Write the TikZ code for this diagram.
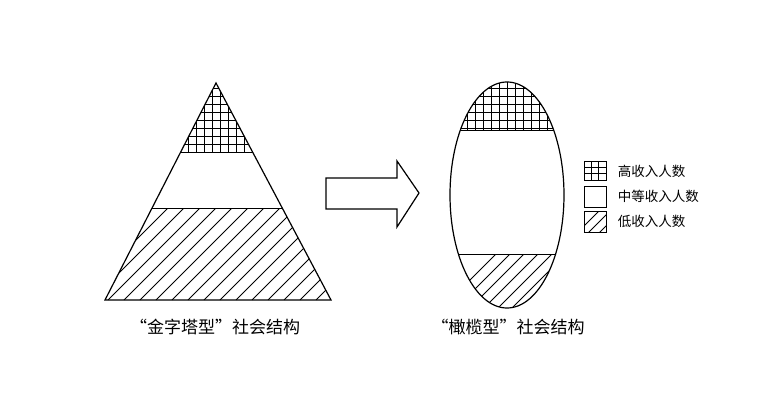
\documentclass[tikz,border=0pt]{standalone}
\usepackage{fontspec}
\newfontfamily\cjk{Noto Sans CJK SC}
\begin{document}
\begin{tikzpicture}[x=1pt,y=-1pt,line width=1.2pt,
  lbl/.style={font=\cjk\fontsize{17}{17}\selectfont},
  leg/.style={font=\cjk\fontsize{13.5}{14}\selectfont,anchor=west},
  thin/.style={line width=0.8pt}]
\useasboundingbox (0,0) rectangle (768,420);
% triangle
\coordinate (A) at (216,83); \coordinate (B) at (105,300); \coordinate (C) at (331,300);
\begin{scope}
\clip (A)--(B)--(C)--cycle;
\begin{scope}
\clip (0,0) rectangle (768,152);
\foreach \x in {180,188,...,260} \draw[thin] (\x,70)--(\x,152);
\foreach \y in {88,96,...,152} \draw[thin] (150,\y)--(280,\y);
\end{scope}
\begin{scope}
\clip (0,208) rectangle (768,300);
\foreach \k in {0,...,24} \draw[thin] (60+\k*16,300)--(60+\k*16+100,200);
\end{scope}
\draw[thin] (100,152)--(340,152);
\draw[thin] (100,208)--(340,208);
\end{scope}
\draw (A)--(B)--(C)--cycle;
\node[lbl] (t1) at (215,327) {“金字塔型”社会结构};
% arrow
\draw[fill=white] (326,178)--(397,178)--(397,161)--(419,193)--(397,227)--(397,209)--(326,209)--cycle;
% ellipse
\coordinate (E) at (507,195);
\begin{scope}
\clip (E) ellipse [x radius=57, y radius=113];
\begin{scope}
\clip (0,0) rectangle (768,130);
\foreach \x in {451,459,...,565} \draw[thin] (\x,80)--(\x,130);
\foreach \y in {88,96,...,130} \draw[thin] (440,\y)--(570,\y);
\end{scope}
\begin{scope}
\clip (0,254) rectangle (768,310);
\foreach \k in {0,...,14} \draw[thin] (430+\k*14,320)--(430+\k*14+80,240);
\end{scope}
\draw[thin] (440,130)--(570,130);
\draw[thin] (440,254)--(570,254);
\end{scope}
\draw (E) ellipse [x radius=57, y radius=113];
\node[lbl] (t2) at (508,327) {“橄榄型”社会结构};
% legend
\begin{scope}
\clip (584,161) rectangle (606,180);
\foreach \x in {591.3,598.7} \draw[thin] (\x,161)--(\x,180);
\foreach \y in {167.3,173.7} \draw[thin] (584,\y)--(606,\y);
\end{scope}
\draw[thin] (584,161) rectangle (606,180);
\draw[thin] (584,186) rectangle (606,207);
\begin{scope}
\clip (584,211) rectangle (606,232);
\foreach \k in {0,...,3} \draw[thin] (570+\k*11,240)--(570+\k*11+30,210);
\end{scope}
\draw[thin] (584,211) rectangle (606,232);
\node[leg] (l1) at (614,171) {高收入人数};
\node[leg] (l2) at (614,196) {中等收入人数};
\node[leg] (l3) at (614,221) {低收入人数};
\end{tikzpicture}
\end{document}
